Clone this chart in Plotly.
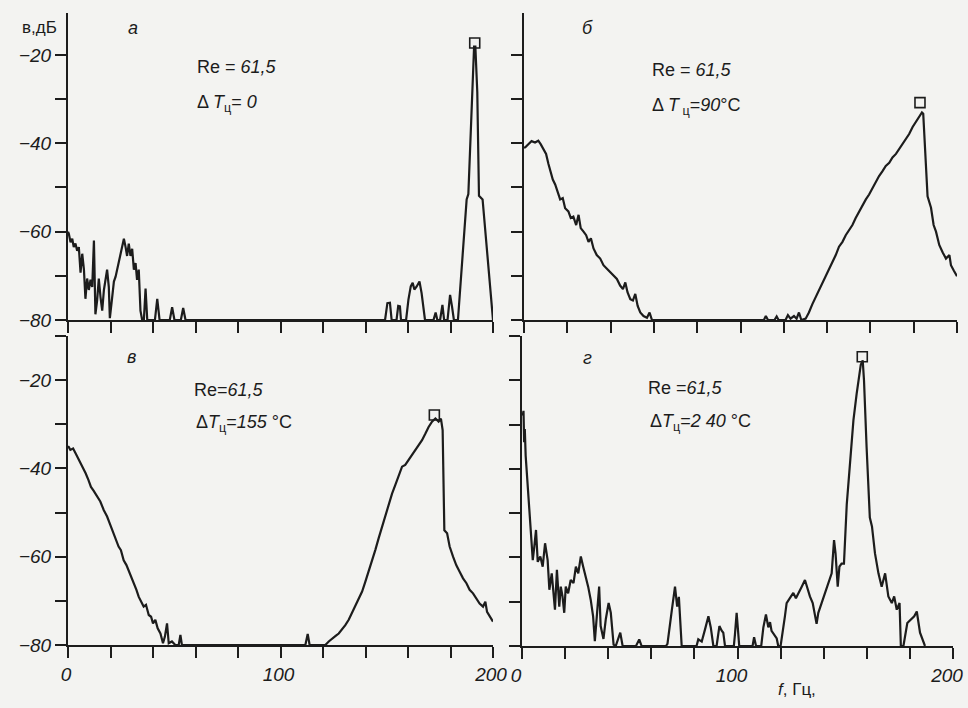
import plotly.graph_objects as go

# ---------------- data ----------------
freq_ticks = [0, 100, 200]
freq_labels = ["0", "100", "200"]
freq_minor_step = 20
level_ticks = [-80, -60, -40, -20]
level_labels = ["−80", "−60", "−40", "−20"]
level_minor_step = 10

# panel а : Re = 61,5, dT = 0   (frequency Hz, level dB)
spec_a = [
    (0.0, -60.0), (0.4, -60.5), (1.2, -62.4), (2.0, -61.6), (2.7, -63.5), (3.5, -62.7), (4.3, -64.3),
    (5.1, -63.5), (5.9, -69.3), (6.7, -65.0), (7.5, -68.6), (8.2, -75.2), (9.0, -70.6),
    (9.8, -73.2), (10.6, -70.9), (11.4, -72.5), (12.2, -62.0), (12.9, -78.7), (13.7, -75.6),
    (14.5, -70.6), (15.3, -74.8), (16.1, -77.9), (16.9, -73.2), (17.6, -70.9), (18.4, -68.6),
    (19.2, -72.5), (19.7, -79.6), (20.8, -74.8), (21.6, -71.3), (22.4, -70.2), (23.1, -68.6),
    (23.9, -66.7), (24.7, -65.1), (25.5, -63.2), (26.3, -61.6), (27.1, -63.5), (27.8, -65.5),
    (28.6, -62.7), (29.4, -65.5), (30.2, -63.9), (31.0, -68.6), (31.8, -67.1), (32.5, -70.9),
    (33.3, -68.6), (34.1, -77.9), (34.9, -80.0), (35.7, -80.0), (36.5, -72.9), (37.3, -80.0),
    (40.9, -80.0), (42.0, -75.2), (43.1, -80.0), (47.9, -80.0), (49.0, -77.1), (50.1, -80.0),
    (53.1, -80.0), (54.2, -77.3), (55.3, -80.0), (149.2, -80.0), (150.3, -76.2), (151.5, -76.1),
    (152.3, -80.0), (154.6, -80.0), (155.4, -76.8), (156.2, -76.9), (156.7, -80.0), (159.1, -80.0),
    (160.2, -75.4), (161.3, -72.4), (162.2, -71.6), (163.0, -73.1), (164.1, -72.4), (165.4, -71.3),
    (166.4, -73.9), (167.2, -76.9), (168.0, -80.0), (172.0, -80.0), (173.0, -78.3), (173.8, -80.0),
    (175.1, -80.0), (176.2, -76.6), (177.0, -80.0), (178.6, -80.0), (179.8, -74.3), (180.7, -76.9),
    (181.6, -80.0), (183.5, -80.0), (187.6, -52.7), (188.4, -51.5), (191.1, -18.1), (191.7, -18.1),
    (192.6, -28.4), (193.4, -51.9), (195.1, -52.7), (200.0, -80.0),
]
peak_a = (191.4, -17.3)

# panel б : Re = 61,5, dT = 90 C
spec_b = [
    (0.0, -41.0), (0.6, -40.9), (2.0, -40.2), (3.5, -39.5), (5.1, -39.8), (6.6, -39.4), (7.7, -40.2),
    (9.0, -41.3), (10.2, -42.4), (11.3, -44.7), (12.3, -46.6), (13.3, -48.2), (14.4, -49.3),
    (15.4, -50.8), (16.7, -52.7), (17.9, -52.4), (19.0, -54.7), (20.5, -55.4), (21.6, -56.9),
    (22.8, -56.6), (24.1, -58.5), (25.2, -56.2), (26.2, -59.2), (27.5, -60.0), (28.7, -60.8),
    (29.8, -62.3), (30.9, -61.5), (32.1, -63.8), (33.6, -65.3), (35.2, -66.1), (36.7, -67.6),
    (38.3, -68.4), (39.8, -69.2), (41.4, -69.9), (42.9, -70.7), (44.4, -72.2), (45.7, -73.0),
    (46.8, -71.5), (47.8, -73.7), (49.1, -75.3), (50.3, -75.6), (51.4, -74.1), (52.5, -76.8),
    (53.7, -78.3), (55.2, -79.1), (56.8, -79.5), (58.0, -78.3), (59.1, -80.0), (110.8, -80.0),
    (111.7, -79.1), (112.7, -80.0), (115.7, -80.0), (116.7, -79.2), (117.6, -80.0), (120.8, -80.0),
    (121.9, -78.9), (123.1, -79.7), (124.7, -79.1), (125.9, -79.7), (127.0, -78.3), (128.1, -80.0),
    (130.1, -79.7), (131.6, -78.3), (133.2, -76.4), (134.7, -74.9), (136.3, -73.0), (137.8, -71.5),
    (139.4, -69.9), (140.9, -68.4), (142.4, -66.9), (144.0, -65.3), (145.5, -63.4), (147.1, -62.3),
    (148.6, -60.8), (150.2, -59.6), (151.7, -58.5), (153.2, -56.9), (154.8, -55.4), (156.3, -54.3),
    (157.9, -52.7), (159.4, -51.6), (161.0, -50.1), (162.5, -48.5), (164.0, -47.4), (165.6, -46.3),
    (167.1, -45.1), (168.7, -44.4), (170.2, -43.2), (171.8, -42.4), (173.3, -41.3), (174.8, -40.2),
    (176.4, -39.0), (177.9, -37.9), (179.5, -36.3), (181.0, -35.2), (182.6, -34.0), (183.8, -33.0),
    (184.4, -33.3), (186.4, -52.0), (188.0, -54.6), (189.2, -58.5), (190.3, -60.0), (191.8, -63.0),
    (193.4, -64.7), (194.9, -66.1), (196.5, -65.3), (197.2, -67.6), (198.5, -68.8), (200.0, -70.1),
]
peak_b = (182.9, -30.8)

# panel в : Re = 61,5, dT = 155 C
spec_c = [
    (0.0, -35.0), (0.3, -35.1), (1.1, -35.8), (2.4, -35.5), (3.5, -36.5), (4.5, -37.4), (5.8, -38.9),
    (7.1, -39.8), (8.3, -41.1), (9.6, -42.6), (10.8, -44.2), (12.1, -45.1), (13.6, -46.4),
    (15.2, -47.5), (16.8, -49.4), (18.4, -50.9), (19.9, -52.8), (21.5, -54.7), (22.7, -56.2),
    (23.8, -57.7), (24.9, -58.5), (26.2, -60.8), (27.5, -61.9), (28.5, -63.0), (29.6, -64.5),
    (30.9, -66.0), (32.2, -67.5), (33.3, -69.1), (34.4, -70.2), (35.6, -71.3), (36.7, -70.9),
    (38.0, -73.2), (39.1, -73.6), (40.0, -75.1), (41.1, -74.3), (42.2, -76.2), (43.5, -77.4),
    (44.7, -79.6), (45.6, -78.1), (46.6, -75.1), (47.4, -79.6), (48.9, -79.2), (50.5, -80.0),
    (52.1, -80.0), (52.9, -77.7), (53.6, -80.0), (111.7, -80.0), (112.8, -77.5), (113.7, -80.0),
    (121.1, -80.0), (122.7, -79.2), (124.2, -78.7), (125.8, -78.0), (127.4, -77.4), (128.9, -76.6),
    (130.5, -75.5), (132.1, -74.3), (133.6, -72.8), (135.2, -71.3), (136.8, -69.8), (138.4, -67.9),
    (139.9, -65.7), (141.5, -63.4), (143.1, -61.1), (144.6, -58.5), (146.2, -55.8), (147.8, -53.2),
    (149.3, -50.6), (150.9, -47.9), (152.5, -45.7), (154.0, -43.8), (155.6, -41.9), (157.2, -39.6),
    (158.7, -39.2), (160.3, -38.1), (161.9, -37.0), (163.5, -35.8), (165.0, -34.7), (166.6, -33.6),
    (168.2, -32.1), (169.7, -30.6), (171.3, -29.4), (172.9, -28.7), (174.4, -29.4), (175.5, -28.7),
    (176.3, -31.3), (177.1, -54.0), (178.4, -54.7), (179.6, -57.7), (181.2, -60.0), (182.7, -61.9),
    (184.3, -63.4), (185.9, -64.9), (187.5, -66.0), (189.0, -67.5), (190.6, -68.3), (192.2, -69.4),
    (193.7, -70.6), (195.3, -71.3), (196.4, -70.2), (197.2, -72.5), (198.7, -73.6), (200.0, -74.7),
]
peak_c = (172.4, -27.9)

# panel г : Re = 61,5, dT = 240 C
spec_d = [
    (0.3, -28.0), (0.7, -26.9), (1.0, -34.0), (1.3, -31.0), (1.7, -37.0), (2.9, -45.6), (3.4, -51.6),
    (4.2, -56.1), (5.0, -60.6), (5.7, -57.6), (6.5, -53.8), (7.3, -61.0), (8.5, -59.8), (9.6, -62.1),
    (10.7, -56.8), (11.9, -60.6), (12.7, -67.3), (13.8, -63.6), (14.7, -67.6), (15.3, -71.8),
    (16.2, -62.8), (17.3, -71.1), (18.0, -66.6), (18.8, -68.8), (19.6, -72.5), (20.3, -66.6),
    (21.4, -68.1), (22.6, -65.1), (23.9, -65.8), (25.0, -62.1), (26.1, -63.6), (27.3, -59.8),
    (28.4, -62.1), (29.6, -64.3), (30.7, -66.6), (31.9, -69.6), (33.0, -73.3), (33.8, -78.9),
    (34.7, -72.8), (35.8, -66.6), (36.5, -75.5), (37.8, -78.4), (38.9, -73.9), (40.2, -70.3),
    (41.2, -72.5), (42.5, -79.7), (43.5, -80.0), (45.6, -77.0), (46.7, -80.0), (52.9, -80.0),
    (54.4, -78.5), (55.5, -80.0), (66.8, -80.0), (67.5, -79.5), (69.5, -72.0), (71.0, -66.6),
    (72.0, -71.1), (72.8, -68.9), (74.1, -80.0), (81.0, -80.0), (81.8, -78.5), (83.4, -79.0),
    (84.9, -76.3), (86.5, -73.3), (87.6, -75.8), (88.8, -80.0), (90.3, -80.0), (91.6, -75.5),
    (92.6, -76.5), (93.4, -77.0), (94.2, -80.0), (98.3, -80.0), (98.8, -77.5), (99.6, -72.5),
    (100.4, -77.5), (100.8, -80.0), (107.0, -80.0), (107.7, -78.0), (108.6, -80.0), (111.0, -80.0),
    (112.0, -75.8), (113.2, -72.9), (114.3, -75.8), (115.1, -74.6), (115.8, -76.6), (116.9, -77.5),
    (118.2, -78.3), (118.9, -80.0), (120.0, -80.0), (122.0, -73.3), (122.8, -70.3), (124.3, -69.2),
    (125.9, -68.0), (127.1, -69.2), (128.2, -68.0), (129.8, -66.6), (131.3, -65.1), (132.4, -67.0),
    (133.6, -68.8), (134.9, -70.3), (135.9, -72.5), (136.7, -75.0), (137.5, -72.5), (139.0, -70.3),
    (140.6, -68.3), (142.1, -66.0), (143.7, -63.6), (144.8, -56.1), (145.5, -59.1), (146.5, -66.6),
    (147.3, -62.1), (148.3, -61.4), (149.4, -61.4), (150.7, -48.0), (152.2, -38.0), (153.8, -29.0),
    (155.3, -23.0), (156.4, -19.0), (157.2, -16.5), (158.1, -15.5), (158.7, -20.0), (159.9, -35.0),
    (161.4, -51.0), (162.4, -53.0), (163.8, -59.1), (165.4, -63.6), (166.9, -66.6), (168.5, -63.6),
    (170.0, -68.8), (171.6, -70.3), (172.7, -68.8), (173.9, -71.8), (175.2, -70.3), (175.8, -80.0),
    (177.0, -80.0), (178.8, -74.8), (180.4, -74.0), (182.0, -73.3), (183.2, -72.2), (184.7, -77.0),
    (187.0, -80.0),
]
peak_d = (157.9, -14.7)

panel_letters = ["а", "б", "в", "г"]
re_texts = ["Re = <i>61,5</i>", "Re = <i>61,5</i>", "Re=<i>61,5</i>", "Re =<i>61,5</i>"]
dt_texts = ["Δ <i>T</i><sub>ц</sub>= <i>0</i>",
            "Δ <i>T</i><sub> ц</sub>=<i>90</i>°C",
            "Δ<i>T</i><sub>ц</sub>=<i>155</i> °C",
            "Δ<i>T</i><sub>ц</sub>=<i>2 40</i> °C"]

# ---------------- figure ----------------
W, H = 968, 708
INK = "#1c1c1c"
BG = "#f3f3f1"
FONT = "Liberation Sans"


def px(x, y):
    return x / W, 1 - y / H


fig = go.Figure()

panels = [
    dict(spec=spec_a, peak=peak_a, n="", xd=(68, 493), yd=(13, 320), yr=-10.5, xl=False, yl=True, sh=0),
    dict(spec=spec_b, peak=peak_b, n="2", xd=(524, 957), yd=(13, 320), yr=-10.5, xl=False, yl=False, sh=0),
    dict(spec=spec_c, peak=peak_c, n="3", xd=(68, 493), yd=(336, 645), yr=-10.0, xl=True, yl=True, sh=-2),
    dict(spec=spec_d, peak=peak_d, n="4", xd=(522, 953), yd=(336, 646), yr=-10.0, xl=True, yl=False, sh=-6),
]

for p in panels:
    f = [s[0] for s in p["spec"]]
    db = [s[1] for s in p["spec"]]
    fig.add_trace(go.Scatter(x=f, y=db, mode="lines", line=dict(color=INK, width=2.2),
                             xaxis="x" + p["n"], yaxis="y" + p["n"], showlegend=False,
                             hoverinfo="skip"))
    fig.add_trace(go.Scatter(x=[p["peak"][0]], y=[p["peak"][1]], mode="markers",
                             marker=dict(symbol="square-open", size=10, color=INK,
                                         line=dict(width=1.6, color=INK)),
                             cliponaxis=False,
                             xaxis="x" + p["n"], yaxis="y" + p["n"], showlegend=False,
                             hoverinfo="skip"))
    tickfont = dict(family=FONT, size=19, color=INK, style="italic")
    minor = dict(ticks="outside", ticklen=11, tickwidth=2, tickcolor=INK, showgrid=False)
    xa = dict(domain=[p["xd"][0] / W, p["xd"][1] / W], range=[0, 200],
              anchor="y" + p["n"], showline=True, linewidth=2, linecolor=INK,
              ticks="outside", ticklen=11, tickwidth=2, tickcolor=INK,
              tickmode="array", tickvals=freq_ticks, ticktext=freq_labels,
              minor=dict(minor, dtick=freq_minor_step, tick0=0),
              showticklabels=p["xl"], showgrid=False, zeroline=False, tickfont=tickfont,
              automargin=False, ticklabeloverflow="allow", ticklabelshift=p["sh"])
    ya = dict(domain=[1 - p["yd"][1] / H, 1 - p["yd"][0] / H], range=[-80, p["yr"]],
              anchor="x" + p["n"], showline=True, linewidth=2, linecolor=INK,
              ticks="outside", ticklen=11, tickwidth=2, tickcolor=INK,
              tickmode="array", tickvals=level_ticks, ticktext=level_labels,
              minor=dict(minor, dtick=level_minor_step, tick0=-80),
              showticklabels=p["yl"], showgrid=False, zeroline=False, tickfont=tickfont,
              automargin=False, ticklabeloverflow="allow")
    fig.layout["xaxis" + p["n"]] = xa
    fig.layout["yaxis" + p["n"]] = ya

annotations = []


def add_text(text, x, y, size=18, xanchor="left"):
    ax, ay = px(x, y)
    annotations.append(dict(text=text, x=ax, y=ay, xref="paper", yref="paper",
                            xanchor=xanchor, yanchor="middle", showarrow=False,
                            font=dict(family=FONT, size=size, color=INK)))


letter_pos = [(133, 28), (587, 28), (131, 357), (587, 358)]
re_pos = [(195, 67), (650, 70), (192, 390), (646, 388)]
dt_pos = [(195, 103), (650, 106), (194, 423), (648, 422)]
for i in range(4):
    add_text("<i>" + panel_letters[i] + "</i>", *letter_pos[i], size=18, xanchor="center")
    add_text(re_texts[i], *re_pos[i], size=18)
    add_text(dt_texts[i], *dt_pos[i], size=18)

add_text("в,дБ", 39, 27, size=17, xanchor="center")
add_text("<i>f</i>, Гц,", 797, 689, size=17, xanchor="center")

fig.update_layout(width=W, height=H, margin=dict(l=0, r=0, t=0, b=0, autoexpand=False),
                  paper_bgcolor=BG, plot_bgcolor=BG, annotations=annotations,
                  showlegend=False)

fig.write_html(
    "out.html",
    config={"displayModeBar": False},
    post_script=(
        "document.documentElement.style.margin='0';"
        "document.documentElement.style.padding='0';"
        "document.documentElement.style.overflow='hidden';"
        "document.body.style.margin='0';"
        "document.body.style.padding='0';"
        "document.body.style.overflow='hidden';"
        "document.body.style.background='%s';" % BG
    ),
)
